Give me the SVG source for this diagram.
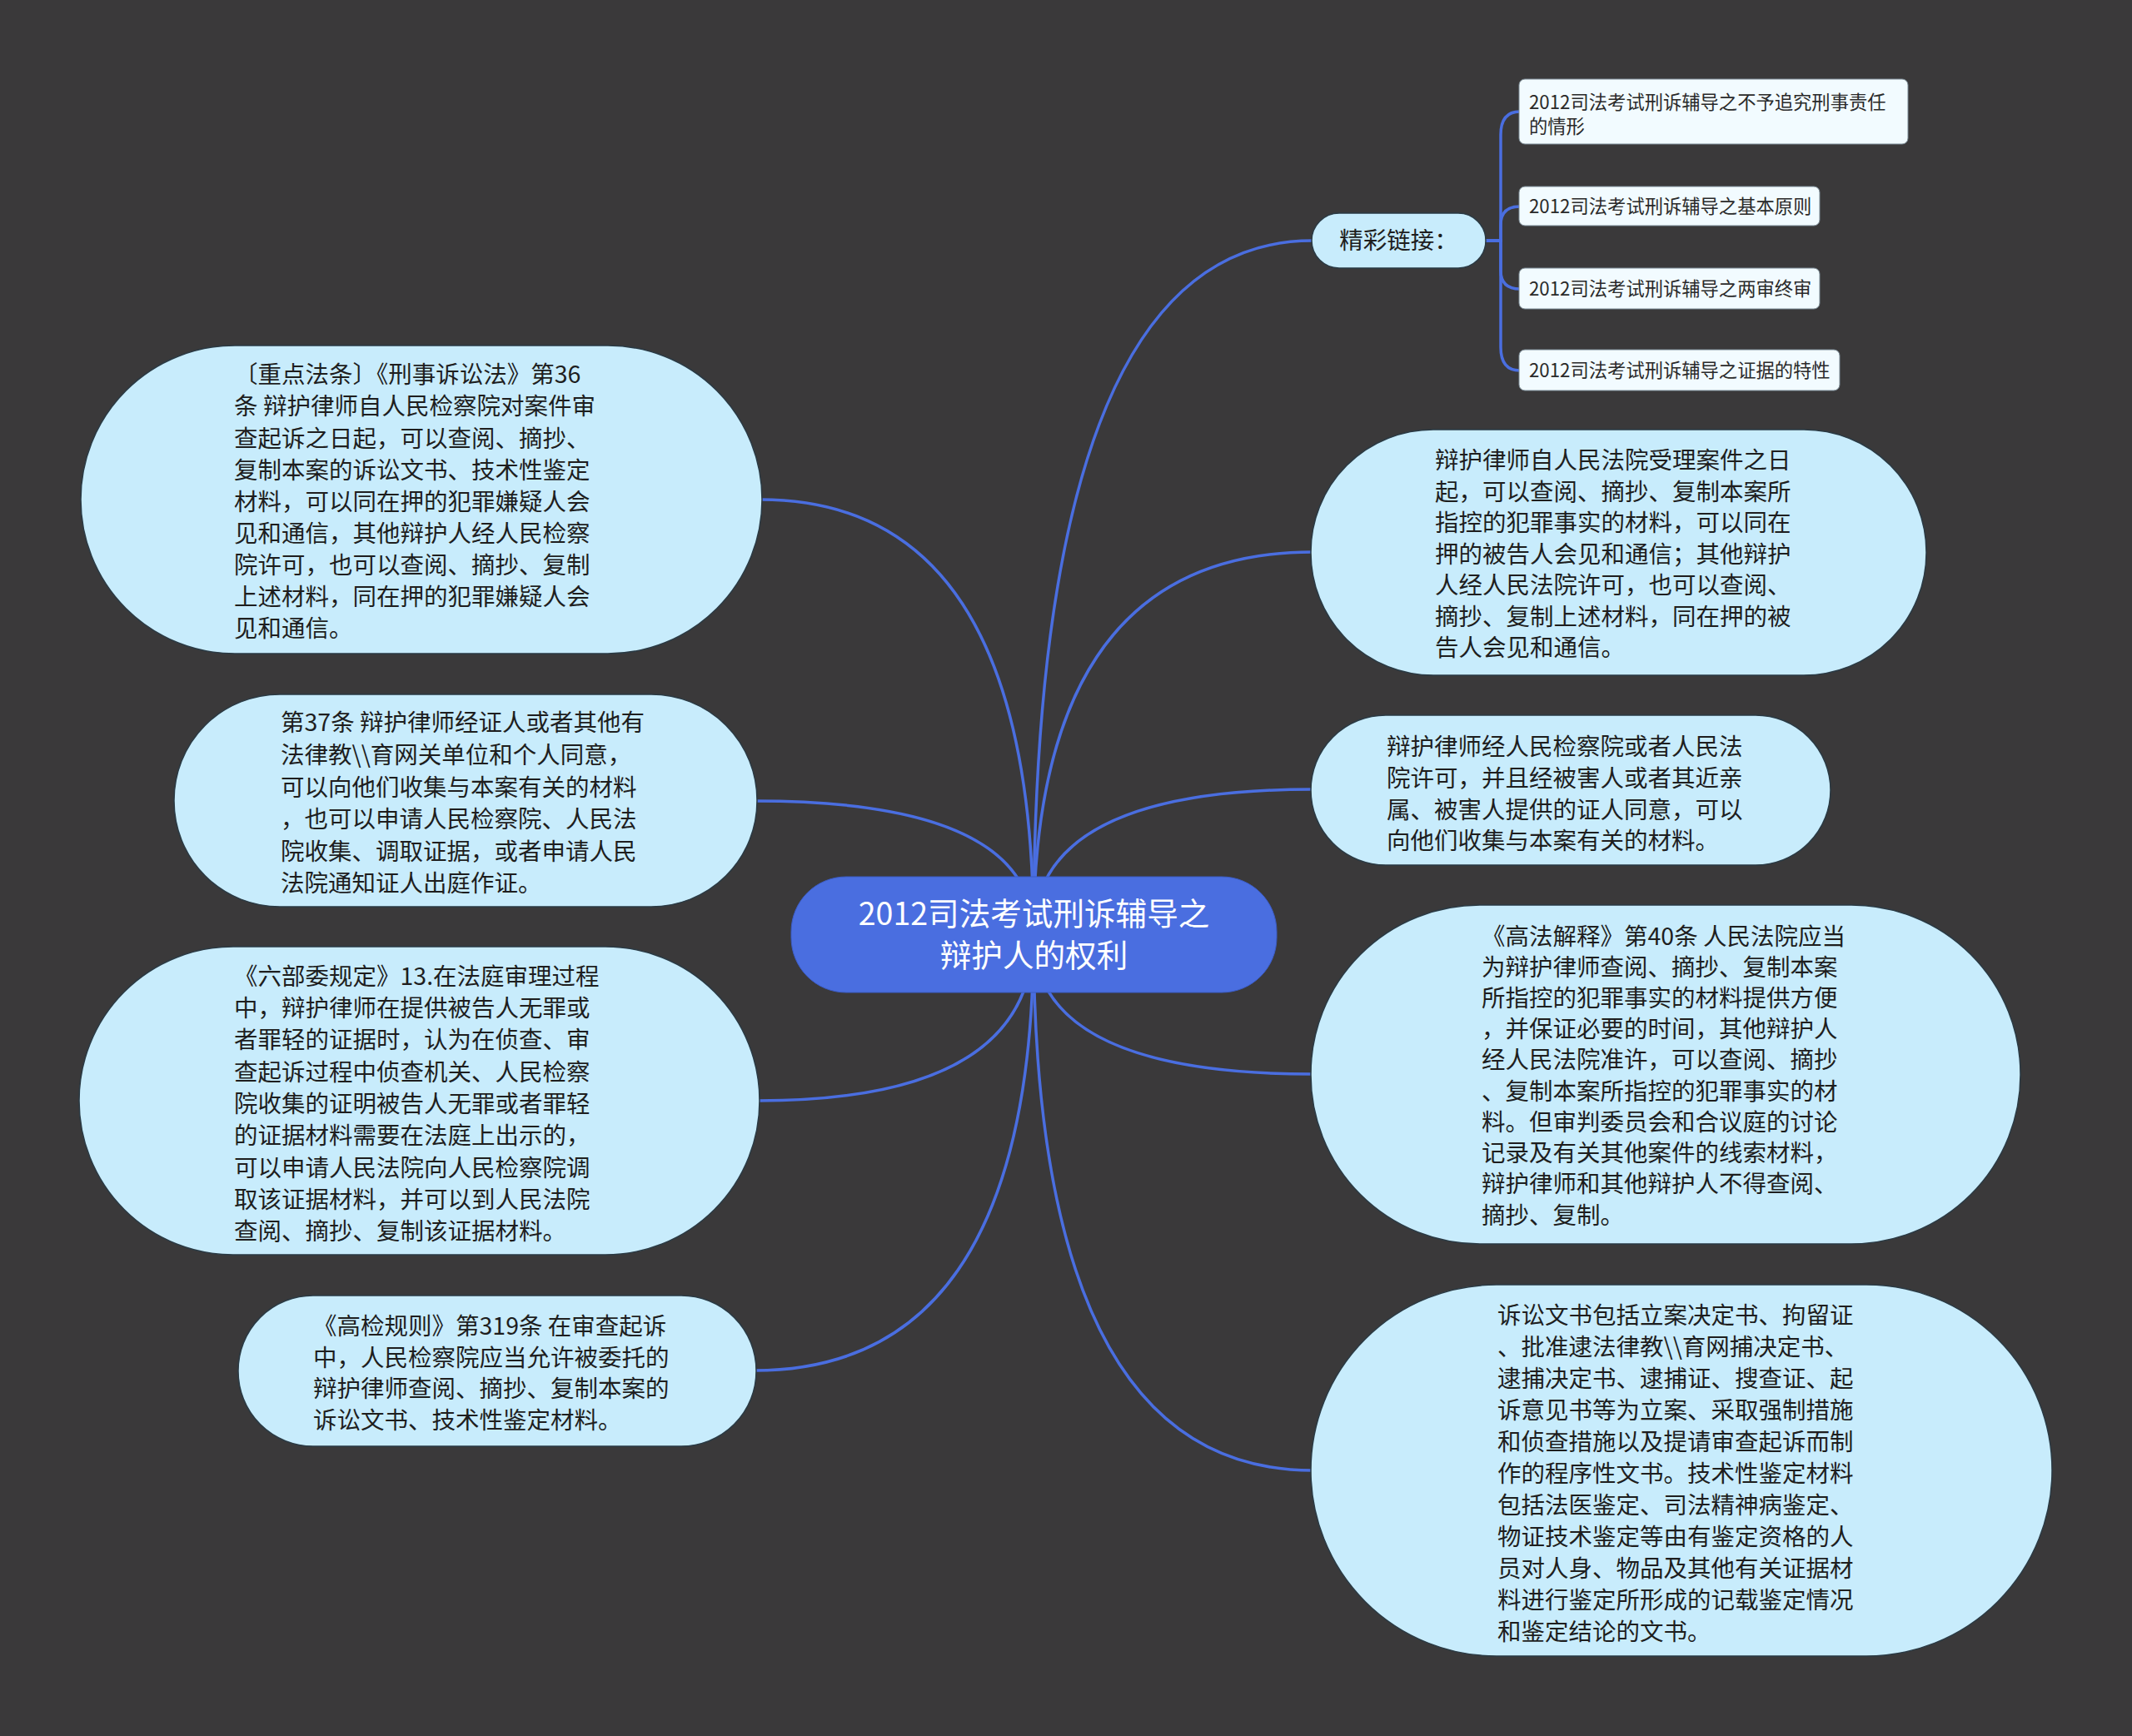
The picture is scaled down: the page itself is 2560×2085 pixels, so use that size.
<svg xmlns="http://www.w3.org/2000/svg" width="2560" height="2085" viewBox="0 0 2560 2085">
<style>
.bg{fill:#3a393a}
.edge{fill:none;stroke:#4a6ee0;stroke-width:3.5;stroke-linecap:round}
.pill{fill:#c8ecfc;stroke:#2a3a44;stroke-width:1.5}
.link{fill:#f2fbff;stroke:#7a8a94;stroke-width:1}
.root{fill:#4a6ee0;stroke:#3b5cc4;stroke-width:1}
.t{font-family:"Noto Sans CJK SC","Noto Sans",sans-serif;font-size:28.5px;fill:#1e1e1e}
.ts{font-family:"Noto Sans CJK SC","Noto Sans",sans-serif;font-size:22.3px;fill:#2a2a2a}
.tr{font-family:"Noto Sans CJK SC","Noto Sans",sans-serif;font-size:37.6px;fill:#ffffff;text-anchor:middle}
</style>
<rect class="bg" x="0" y="0" width="2560" height="2085"/>
<g id="connectors">
<path class="edge" d="M1241 1122 Q1241 289 1576 289"/>
<path class="edge" d="M1241 1122 Q1241 663 1576 663"/>
<path class="edge" d="M1241 1122 Q1241 948 1576 948"/>
<path class="edge" d="M1241 1122 Q1241 1290 1576 1290"/>
<path class="edge" d="M1241 1122 Q1241 1766 1576 1766"/>
<path class="edge" d="M1241 1122 Q1241 600 913 600"/>
<path class="edge" d="M1241 1122 Q1241 962 907 962"/>
<path class="edge" d="M1241 1122 Q1241 1322 910 1322"/>
<path class="edge" d="M1241 1122 Q1241 1646 906 1646"/>
<path class="edge" d="M1782 289 H1802 V162 Q1802 134 1825 134"/>
<path class="edge" d="M1782 289 H1802 V270 Q1802 248 1825 248"/>
<path class="edge" d="M1782 289 H1802 V325 Q1802 347 1825 347"/>
<path class="edge" d="M1782 289 H1802 V417 Q1802 445 1825 445"/>
</g>
<g id="root">
<rect class="root" x="950" y="1053" width="583" height="139" rx="66" ry="66"/>
<text class="tr" x="1241.5" y="1111">2012司法考试刑诉辅导之</text>
<text class="tr" x="1241.5" y="1161">辩护人的权利</text>
</g>
<g id="links-hub">
<rect class="pill" x="1575" y="256" width="209" height="66" rx="33" ry="33"/>
<text class="t" x="1679.5" y="299" text-anchor="middle">精彩链接：</text>
</g>
<g id="link1">
<rect class="link" x="1824" y="95" width="467" height="78" rx="7" ry="7"/>
<text class="ts" x="1836" y="131">2012司法考试刑诉辅导之不予追究刑事责任</text>
<text class="ts" x="1836" y="160">的情形</text>
</g>
<g id="link2">
<rect class="link" x="1824" y="224" width="361" height="47" rx="7" ry="7"/>
<text class="ts" x="1836" y="256">2012司法考试刑诉辅导之基本原则</text>
</g>
<g id="link3">
<rect class="link" x="1824" y="322" width="361" height="49" rx="7" ry="7"/>
<text class="ts" x="1836" y="355">2012司法考试刑诉辅导之两审终审</text>
</g>
<g id="link4">
<rect class="link" x="1824" y="420" width="385" height="49" rx="7" ry="7"/>
<text class="ts" x="1836" y="453">2012司法考试刑诉辅导之证据的特性</text>
</g>
<g id="node-l1">
<rect class="pill" x="97" y="415" width="818" height="370" rx="185" ry="185"/>
<text class="t" x="281" y="460">〔重点法条〕《刑事诉讼法》第36</text>
<text class="t" x="281" y="498">条 辩护律师自人民检察院对案件审</text>
<text class="t" x="281" y="537">查起诉之日起，可以查阅、摘抄、</text>
<text class="t" x="281" y="575">复制本案的诉讼文书、技术性鉴定</text>
<text class="t" x="281" y="613">材料，可以同在押的犯罪嫌疑人会</text>
<text class="t" x="281" y="651">见和通信，其他辩护人经人民检察</text>
<text class="t" x="281" y="689">院许可，也可以查阅、摘抄、复制</text>
<text class="t" x="281" y="727">上述材料，同在押的犯罪嫌疑人会</text>
<text class="t" x="281" y="765">见和通信。</text>
</g>
<g id="node-l2">
<rect class="pill" x="209" y="834" width="700" height="255" rx="127" ry="127"/>
<text class="t" x="337" y="878">第37条 辩护律师经证人或者其他有</text>
<text class="t" x="337" y="917">法律教\\育网关单位和个人同意，</text>
<text class="t" x="337" y="956">可以向他们收集与本案有关的材料</text>
<text class="t" x="337" y="994">，也可以申请人民检察院、人民法</text>
<text class="t" x="337" y="1033">院收集、调取证据，或者申请人民</text>
<text class="t" x="337" y="1071">法院通知证人出庭作证。</text>
</g>
<g id="node-l3">
<rect class="pill" x="95" y="1137" width="817" height="370" rx="185" ry="185"/>
<text class="t" x="281" y="1183">《六部委规定》13.在法庭审理过程</text>
<text class="t" x="281" y="1221">中，辩护律师在提供被告人无罪或</text>
<text class="t" x="281" y="1259">者罪轻的证据时，认为在侦查、审</text>
<text class="t" x="281" y="1298">查起诉过程中侦查机关、人民检察</text>
<text class="t" x="281" y="1336">院收集的证明被告人无罪或者罪轻</text>
<text class="t" x="281" y="1374">的证据材料需要在法庭上出示的，</text>
<text class="t" x="281" y="1413">可以申请人民法院向人民检察院调</text>
<text class="t" x="281" y="1451">取该证据材料，并可以到人民法院</text>
<text class="t" x="281" y="1489">查阅、摘抄、复制该证据材料。</text>
</g>
<g id="node-l4">
<rect class="pill" x="286" y="1556" width="622" height="181" rx="90" ry="90"/>
<text class="t" x="376" y="1603">《高检规则》第319条 在审查起诉</text>
<text class="t" x="376" y="1641">中，人民检察院应当允许被委托的</text>
<text class="t" x="376" y="1678">辩护律师查阅、摘抄、复制本案的</text>
<text class="t" x="376" y="1716">诉讼文书、技术性鉴定材料。</text>
</g>
<g id="node-r1">
<rect class="pill" x="1574" y="516" width="739" height="295" rx="147" ry="147"/>
<text class="t" x="1723" y="563">辩护律师自人民法院受理案件之日</text>
<text class="t" x="1723" y="601">起，可以查阅、摘抄、复制本案所</text>
<text class="t" x="1723" y="638">指控的犯罪事实的材料，可以同在</text>
<text class="t" x="1723" y="676">押的被告人会见和通信；其他辩护</text>
<text class="t" x="1723" y="713">人经人民法院许可，也可以查阅、</text>
<text class="t" x="1723" y="751">摘抄、复制上述材料，同在押的被</text>
<text class="t" x="1723" y="788">告人会见和通信。</text>
</g>
<g id="node-r2">
<rect class="pill" x="1574" y="859" width="624" height="180" rx="90" ry="90"/>
<text class="t" x="1665" y="907">辩护律师经人民检察院或者人民法</text>
<text class="t" x="1665" y="945">院许可，并且经被害人或者其近亲</text>
<text class="t" x="1665" y="983">属、被害人提供的证人同意，可以</text>
<text class="t" x="1665" y="1020">向他们收集与本案有关的材料。</text>
</g>
<g id="node-r3">
<rect class="pill" x="1574" y="1087" width="852" height="407" rx="203" ry="203"/>
<text class="t" x="1779" y="1135">《高法解释》第40条 人民法院应当</text>
<text class="t" x="1779" y="1172">为辩护律师查阅、摘抄、复制本案</text>
<text class="t" x="1779" y="1209">所指控的犯罪事实的材料提供方便</text>
<text class="t" x="1779" y="1246">，并保证必要的时间，其他辩护人</text>
<text class="t" x="1779" y="1283">经人民法院准许，可以查阅、摘抄</text>
<text class="t" x="1779" y="1321">、复制本案所指控的犯罪事实的材</text>
<text class="t" x="1779" y="1358">料。但审判委员会和合议庭的讨论</text>
<text class="t" x="1779" y="1395">记录及有关其他案件的线索材料，</text>
<text class="t" x="1779" y="1432">辩护律师和其他辩护人不得查阅、</text>
<text class="t" x="1779" y="1470">摘抄、复制。</text>
</g>
<g id="node-r4">
<rect class="pill" x="1574" y="1543" width="890" height="446" rx="223" ry="223"/>
<text class="t" x="1798" y="1590">诉讼文书包括立案决定书、拘留证</text>
<text class="t" x="1798" y="1628">、批准逮法律教\\育网捕决定书、</text>
<text class="t" x="1798" y="1666">逮捕决定书、逮捕证、搜查证、起</text>
<text class="t" x="1798" y="1704">诉意见书等为立案、采取强制措施</text>
<text class="t" x="1798" y="1742">和侦查措施以及提请审查起诉而制</text>
<text class="t" x="1798" y="1780">作的程序性文书。技术性鉴定材料</text>
<text class="t" x="1798" y="1818">包括法医鉴定、司法精神病鉴定、</text>
<text class="t" x="1798" y="1856">物证技术鉴定等由有鉴定资格的人</text>
<text class="t" x="1798" y="1894">员对人身、物品及其他有关证据材</text>
<text class="t" x="1798" y="1932">料进行鉴定所形成的记载鉴定情况</text>
<text class="t" x="1798" y="1970">和鉴定结论的文书。</text>
</g>
</svg>
